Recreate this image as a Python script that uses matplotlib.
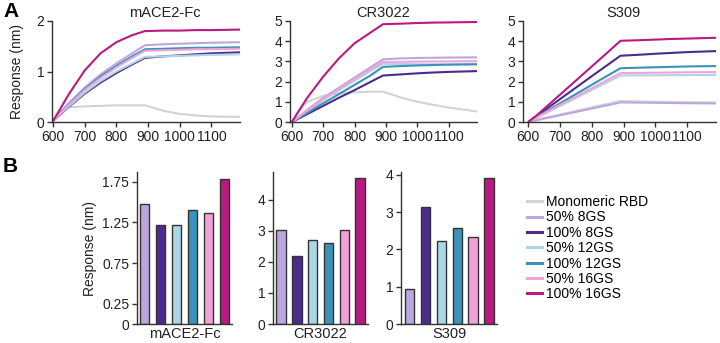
import matplotlib
matplotlib.use("Agg")
import matplotlib.pyplot as plt
from matplotlib.lines import Line2D

plt.rcParams['font.family'] = ['Liberation Sans', 'DejaVu Sans']

# ---- data ----
series = ["Monomeric RBD", "50% 8GS", "100% 8GS", "50% 12GS", "100% 12GS", "50% 16GS", "100% 16GS"]
colors = ["#d3d3d3", "#bca6e0", "#4b2b8c", "#aad6e6", "#3a93b8", "#f2a2d8", "#b81a80"]

time_s = [600, 625, 650, 700, 750, 800, 850, 890, 950, 1000, 1050, 1100, 1190]

mace2_curves = [
    [0.00, 0.22, 0.29, 0.31, 0.32, 0.33, 0.33, 0.33, 0.22, 0.16, 0.13, 0.11, 0.10],
    [0.02, 0.20, 0.37, 0.68, 0.94, 1.16, 1.36, 1.52, 1.54, 1.55, 1.56, 1.57, 1.58],
    [0.02, 0.16, 0.30, 0.56, 0.78, 0.97, 1.14, 1.27, 1.30, 1.32, 1.34, 1.36, 1.38],
    [0.02, 0.17, 0.31, 0.58, 0.81, 1.00, 1.16, 1.29, 1.30, 1.31, 1.32, 1.33, 1.34],
    [0.02, 0.19, 0.35, 0.65, 0.90, 1.11, 1.30, 1.44, 1.45, 1.46, 1.47, 1.47, 1.48],
    [0.02, 0.18, 0.34, 0.63, 0.87, 1.08, 1.27, 1.41, 1.42, 1.43, 1.44, 1.44, 1.45],
    [0.02, 0.28, 0.55, 1.02, 1.36, 1.58, 1.72, 1.80, 1.81, 1.81, 1.82, 1.82, 1.83],
]
cr3022_curves = [
    [0.00, 0.60, 1.00, 1.30, 1.42, 1.47, 1.50, 1.50, 1.20, 1.00, 0.85, 0.72, 0.52],
    [0.00, 0.30, 0.62, 1.20, 1.70, 2.20, 2.70, 3.10, 3.15, 3.17, 3.18, 3.19, 3.20],
    [0.00, 0.20, 0.40, 0.80, 1.20, 1.58, 1.98, 2.30, 2.36, 2.41, 2.45, 2.48, 2.52],
    [0.00, 0.28, 0.55, 1.08, 1.58, 2.05, 2.52, 2.88, 2.87, 2.86, 2.86, 2.85, 2.85],
    [0.00, 0.23, 0.46, 0.93, 1.38, 1.84, 2.30, 2.73, 2.77, 2.80, 2.82, 2.84, 2.86],
    [0.00, 0.29, 0.58, 1.13, 1.64, 2.12, 2.60, 2.97, 2.98, 2.99, 3.00, 3.00, 3.01],
    [0.00, 0.62, 1.22, 2.25, 3.15, 3.90, 4.42, 4.84, 4.87, 4.90, 4.92, 4.93, 4.95],
]
s309_curves = [
    [0.00, 0.10, 0.19, 0.37, 0.55, 0.73, 0.90, 1.04, 1.02, 1.00, 0.99, 0.98, 0.97],
    [0.00, 0.08, 0.17, 0.33, 0.50, 0.67, 0.83, 0.97, 0.96, 0.95, 0.94, 0.93, 0.92],
    [0.00, 0.28, 0.56, 1.13, 1.70, 2.27, 2.83, 3.28, 3.33, 3.38, 3.42, 3.46, 3.51],
    [0.00, 0.20, 0.40, 0.79, 1.19, 1.59, 1.98, 2.30, 2.31, 2.31, 2.32, 2.32, 2.33],
    [0.00, 0.23, 0.46, 0.92, 1.38, 1.84, 2.30, 2.66, 2.69, 2.71, 2.73, 2.75, 2.77],
    [0.00, 0.21, 0.42, 0.84, 1.25, 1.67, 2.09, 2.42, 2.43, 2.44, 2.45, 2.46, 2.47],
    [0.00, 0.30, 0.65, 1.35, 2.05, 2.75, 3.45, 4.02, 4.05, 4.08, 4.11, 4.13, 4.17],
]

bar_series = series[1:]
bar_colors = colors[1:]
mace2_bars = [1.48, 1.22, 1.22, 1.40, 1.37, 1.79]
cr3022_bars = [3.02, 2.20, 2.72, 2.62, 3.02, 4.71]
s309_bars = [0.95, 3.15, 2.22, 2.57, 2.34, 3.92]

titles = ["mACE2-Fc", "CR3022", "S309"]

# ---- figure ----
W, H = 720, 343
fig = plt.figure(figsize=(7.2, 3.43), dpi=100)

def px_axes(x0, x1, ytop, ybot):
    return fig.add_axes([x0 / W, 1 - ybot / H, (x1 - x0) / W, (ybot - ytop) / H])

def style(ax):
    for s in ("top", "right"):
        ax.spines[s].set_visible(False)
    for s in ("left", "bottom"):
        ax.spines[s].set_linewidth(1.0)
        ax.spines[s].set_color("#333333")
    ax.tick_params(axis="both", labelsize=10, length=3.5, width=1.0,
                   color="#333333", labelcolor="#222222", pad=2)

# Top row
top_specs = [
    (52, 240, (597, 1190), (0, 2), [0, 1, 2], mace2_curves, 0.6),
    (290, 477, (594, 1190), (0, 5), [0, 1, 2, 3, 4, 5], cr3022_curves, 0.5),
    (523, 716, (584, 1190), (0, 5), [0, 1, 2, 3, 4, 5], s309_curves, 0.52),
]
for i, (x0, x1, xl, yl, yt, curves, tx) in enumerate(top_specs):
    ax = px_axes(x0, x1, 21, 122)
    for vals, c in zip(curves, colors):
        ax.plot(time_s, vals, color=c, lw=1.5, solid_capstyle="butt")
    ax.set_xlim(*xl)
    ax.set_ylim(*yl)
    ax.set_yticks(yt)
    ax.set_xticks([600, 700, 800, 900, 1000, 1100])
    style(ax)
    ax.set_title(titles[i], fontsize=10.5, pad=3, color="#222222", x=tx)
    if i == 0:
        ax.set_ylabel("Response (nm)", fontsize=10, color="#222222", labelpad=9)

# Bottom row
bot_specs = [
    (137, 232, (-0.47, 5.47), 1.87, [0, 0.25, 0.75, 1.25, 1.75], ["0", "0.25", "0.75", "1.25", "1.75"], mace2_bars),
    (273, 368, (-0.5, 5.5), 4.9, [0, 1, 2, 3, 4], ["0", "1", "2", "3", "4"], cr3022_bars),
    (401, 497, (-0.55, 5.5), 4.08, [0, 1, 2, 3, 4], ["0", "1", "2", "3", "4"], s309_bars),
]
for i, (x0, x1, xl, ytop, yt, ytl, vals) in enumerate(bot_specs):
    ax = px_axes(x0, x1, 172, 324)
    ax.bar(range(len(vals)), vals, width=0.6, color=bar_colors,
           edgecolor="#333333", linewidth=1.0)
    ax.set_xlim(*xl)
    ax.set_ylim(0, ytop)
    ax.set_yticks(yt)
    ax.set_yticklabels(ytl)
    style(ax)
    ax.set_xticks([(len(vals) - 1) / 2])
    ax.set_xticklabels([titles[i]])
    ax.tick_params(axis="x", length=0, pad=2, labelsize=10.5)
    if i == 0:
        ax.set_ylabel("Response (nm)", fontsize=10, color="#222222", labelpad=4)

# Legend
handles = [Line2D([0], [0], color=c, lw=2.2) for c in colors]
fig.legend(handles, series, loc="upper left", bbox_to_anchor=(527 / W, 1 - 195 / H),
           frameon=False, fontsize=10, handlelength=1.1, handletextpad=0.3,
           labelspacing=0.1, borderpad=0, borderaxespad=0)

# Panel letters
fig.text(3 / W, 1 - 2 / H, "A", fontsize=15, fontweight="bold", va="top", ha="left")
fig.text(3 / W, 1 - 157 / H, "B", fontsize=15, fontweight="bold", va="top", ha="left")

fig.savefig("out.png", dpi=100)
